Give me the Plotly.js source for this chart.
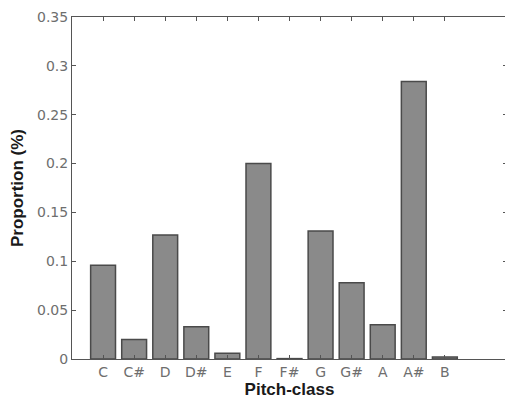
<!DOCTYPE html>
<html>
<head>
<meta charset="utf-8">
<script src="https://cdn.plot.ly/plotly-3.0.1.min.js"></script>
<style>
html, body { margin: 0; padding: 0; overflow: hidden; background: #fff; }
#chart { width: 510px; height: 401px; }
</style>
</head>
<body>
<div id="chart"></div>
<script>
const pitchClasses = ["C", "C#", "D", "D#", "E", "F", "F#", "G", "G#", "A", "A#", "B"];
const proportions = [0.096, 0.020, 0.127, 0.033, 0.006, 0.200, 0.0004, 0.131, 0.078, 0.035, 0.284, 0.002];
const yTicks = [0, 0.05, 0.1, 0.15, 0.2, 0.25, 0.3, 0.35];
const yTickText = ["0", "0.05", "0.1", "0.15", "0.2", "0.25", "0.3", "0.35"];

const trace = {
  type: "bar",
  x: pitchClasses,
  y: proportions,
  width: 0.8,
  marker: { color: "#8a8a8a", line: { color: "#4a4a4a", width: 1.5 } },
  hoverinfo: "x+y"
};

const tickFont = { family: "DejaVu Sans, sans-serif", size: 14, color: "#6e6e6e" };
const titleFont = { family: "Liberation Sans, Arial, sans-serif", size: 17, color: "#1a1a1a", weight: "bold" };

const layout = {
  width: 510,
  height: 401,
  margin: { l: 72, r: 3, t: 17, b: 42 },
  paper_bgcolor: "#ffffff",
  plot_bgcolor: "#ffffff",
  showlegend: false,
  font: { family: "DejaVu Sans, sans-serif", size: 14, color: "#6e6e6e" },
  xaxis: {
    type: "category",
    range: [-1, 13],
    showgrid: false,
    zeroline: false,
    showline: true,
    linecolor: "#555",
    linewidth: 1,
    mirror: "ticks",
    ticks: "inside",
    ticklen: 4,
    tickcolor: "#555",
    tickfont: tickFont,
    title: { text: "Pitch-class", font: titleFont, standoff: 3 }
  },
  yaxis: {
    range: [0, 0.35],
    tickvals: yTicks,
    ticktext: yTickText,
    showgrid: false,
    zeroline: false,
    showline: true,
    linecolor: "#555",
    linewidth: 1,
    mirror: "ticks",
    ticks: "inside",
    ticklen: 4,
    tickcolor: "#555",
    tickfont: tickFont,
    title: { text: "Proportion (%)", font: titleFont, standoff: 9 }
  }
};

Plotly.newPlot("chart", [trace], layout, { displayModeBar: false, staticPlot: true });
</script>
</body>
</html>
